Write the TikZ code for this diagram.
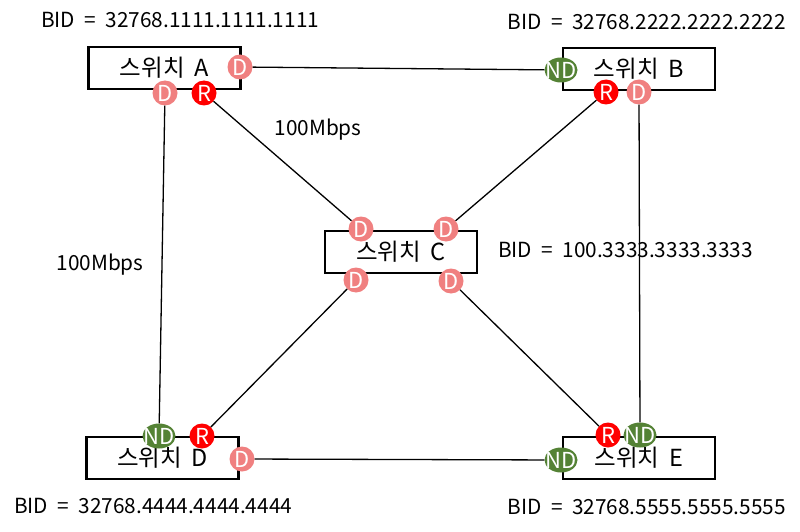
\documentclass[tikz,border=0pt]{standalone}
\usepackage{fontspec}
\setmainfont{Noto Sans CJK KR}
\usetikzlibrary{positioning, shapes.geometric}

\definecolor{dcol}{RGB}{240,128,128}
\definecolor{ndcol}{RGB}{84,130,53}

\newcommand{\eqsp}{\hspace{0.45em}=\hspace{0.45em}}

\begin{document}
\begin{tikzpicture}[x=1pt, y=-1pt,
    sw/.style={draw, line width=2.8pt, minimum width=152pt, minimum height=42pt, inner sep=0pt, font=\fontsize{23.5}{26}\selectfont},
    port/.style={circle, inner sep=0pt, minimum size=25pt, text=white, font=\fontsize{22}{22}\selectfont},
    dp/.style={port, fill=dcol},
    rp/.style={port, fill=red},
    ndp/.style={port, ellipse, fill=ndcol, inner xsep=-5pt, minimum width=33pt, minimum height=25pt},
    bid/.style={font=\fontsize{20.8}{22}\selectfont, inner sep=0pt},
    link/.style={line width=1.3pt}]
    \useasboundingbox (0,0) rectangle (800,532);

    % switches
    \node[sw] (swA) at (164.5,68) {스위치\hspace{0.2em} A};
    \node[sw] (swB) at (639,69) {스위치\hspace{0.2em} B};
    \node[sw] (swC) at (401,252) {스위치\hspace{0.2em} C};
    \node[sw] (swD) at (162.5,458) {스위치\hspace{0.2em} D};
    \node[sw] (swE) at (639,458) {스위치\hspace{0.2em} E};

    % ports
    \node[dp] (a1) at (240,67) {D};
    \node[dp] (a2) at (165,93) {D};
    \node[rp] (a3) at (204,93) {R};

    \node[ndp] (b1) at (561,70) {ND};
    \node[rp] (b2) at (606,92) {R};
    \node[dp] (b3) at (639,92) {D};

    \node[dp] (c1) at (361,229) {D};
    \node[dp] (c2) at (446,229) {D};
    \node[dp] (c3) at (356,280) {D};
    \node[dp] (c4) at (451,281) {D};

    \node[ndp] (d1) at (159,436) {ND};
    \node[rp] (d2) at (202,436) {R};
    \node[dp] (d3) at (242,459) {D};

    \node[rp] (e1) at (608,435) {R};
    \node[ndp] (e2) at (640,435) {ND};
    \node[ndp] (e3) at (561,460) {ND};

    % links
    \draw[link] (a1) -- (b1);
    \draw[link] (a2) -- (d1);
    \draw[link] (a3) -- (c1);
    \draw[link] (b2) -- (c2);
    \draw[link] (b3) -- (e2);
    \draw[link] (c3) -- (d2);
    \draw[link] (c4) -- (e1);
    \draw[link] (d3) -- (e3);

    % labels
    \node[bid, anchor=west] (bidA) at (41,20) {BID\eqsp 32768.1111.1111.1111};
    \node[bid, anchor=east] (bidB) at (786,22) {BID\eqsp 32768.2222.2222.2222};
    \node[bid, anchor=west] (bidC) at (498,250) {BID\eqsp 100.3333.3333.3333};
    \node[bid, anchor=west] (bidD) at (14,506) {BID\eqsp 32768.4444.4444.4444};
    \node[bid, anchor=east] (bidE) at (786,507) {BID\eqsp 32768.5555.5555.5555};
    \node[bid] (bwAC) at (318,130) {100Mbps};
    \node[bid] (bwAD) at (100,265) {100Mbps};
\end{tikzpicture}
\end{document}
